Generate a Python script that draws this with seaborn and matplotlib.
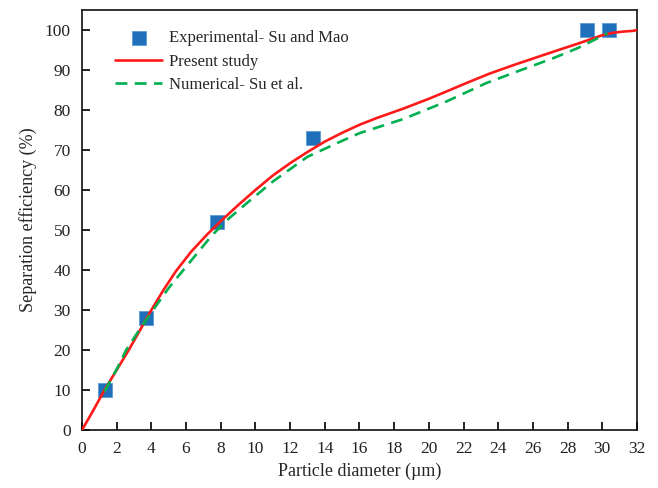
import matplotlib
matplotlib.use('Agg')
import matplotlib.pyplot as plt
import seaborn as sns
import pandas as pd

# Data
exp_x = [1.3, 3.7, 7.8, 13.3, 29.1, 30.4]
exp_y = [10, 28, 52, 73, 100, 100]

present_x = [0, 0.6, 1.3, 2.0, 2.7, 3.35, 4.0, 4.7, 5.4, 6.3, 7.2, 8.0, 9.0, 10.0, 11.0, 12.0,
             13.0, 14.0, 15.0, 16.0, 17.0, 18.5, 20.0, 21.0, 22.2, 23.5, 25.0, 27.2, 28.6,
             30.0, 30.6, 31.2, 31.8, 32]
present_y = [0, 4.5, 10, 15, 20, 25, 30, 35, 39.6, 44.6, 48.8, 52.2, 56.2, 60.0, 63.6, 66.7,
             69.5, 72.1, 74.3, 76.3, 78.0, 80.3, 82.8, 84.6, 86.8, 89.1, 91.4, 94.6, 96.6,
             98.7, 99.3, 99.6, 99.8, 100]

numerical_x = [1.3, 2.0, 2.55, 3.3, 4.1, 5.0, 6.0, 6.8, 7.5, 8.5, 9.5, 11.0, 13.0, 14.9,
               16.0, 18.5, 21.0, 23.3, 25.2, 27.2, 28.6, 29.9, 30.3]
numerical_y = [9.6, 15.2, 20, 25, 30, 35.5, 40.8, 45.0, 48.7, 53.0, 56.7, 62.1, 68.3, 72.1,
               74.2, 77.7, 82.1, 86.7, 89.8, 93, 95.5, 98.3, 99.2]

x_ticks = list(range(0, 33, 2))
y_ticks = list(range(0, 101, 10))

sns.set_style('ticks', {'xtick.direction': 'in', 'ytick.direction': 'in',
                        'axes.axisbelow': False})
plt.rcParams['font.family'] = ['Liberation Serif', 'DejaVu Serif']
plt.rcParams['font.size'] = 12

exp_df = pd.DataFrame({'x': exp_x, 'y': exp_y})
present_df = pd.DataFrame({'x': present_x, 'y': present_y})
num_df = pd.DataFrame({'x': numerical_x, 'y': numerical_y})

fig = plt.figure(figsize=(6.58, 4.88), dpi=100)
ax = fig.add_axes([0.1246, 0.1189, 0.968 - 0.1246, 0.9795 - 0.1189])
ax.set_axisbelow(False)

sns.scatterplot(data=exp_df, x='x', y='y', marker='s', s=95, color='#1F6FBA',
                edgecolor='#5B9BD5', linewidth=0.6, zorder=2,
                label='Experimental- Su and Mao', ax=ax)
sns.lineplot(data=present_df, x='x', y='y', sort=False, color='#FF1A1A',
             linewidth=1.9, zorder=3, label='Present study', ax=ax)
sns.lineplot(data=num_df, x='x', y='y', sort=False, color='#00B050',
             linewidth=1.9, linestyle=(0, (4.5, 2.8)), zorder=3,
             label='Numerical- Su et al.', ax=ax)

ax.set_xlim(0, 32)
ax.set_ylim(0, 105)
ax.set_xticks(x_ticks)
ax.set_yticks(y_ticks)
ax.set_xlabel('Particle diameter (\u00b5m)', fontsize=13, labelpad=4)
ax.set_ylabel('Separation efficiency (%)', fontsize=13, labelpad=6)
ax.tick_params(which='major', bottom=True, left=True, top=False, right=False,
               direction='in', length=5.5, width=1.3, color='#111111', labelsize=12.5,
               labelcolor='#222222', pad=8)

for sp in ax.spines.values():
    sp.set_visible(True)
    sp.set_color('#222222')
    sp.set_linewidth(1.3)

leg = ax.legend(loc='upper left', bbox_to_anchor=(0.06, 0.952), frameon=False,
                borderaxespad=0, borderpad=0, handlelength=2.8, handletextpad=0.4,
                labelspacing=0.45, fontsize=12)

fig.savefig('out.png', dpi=100)
